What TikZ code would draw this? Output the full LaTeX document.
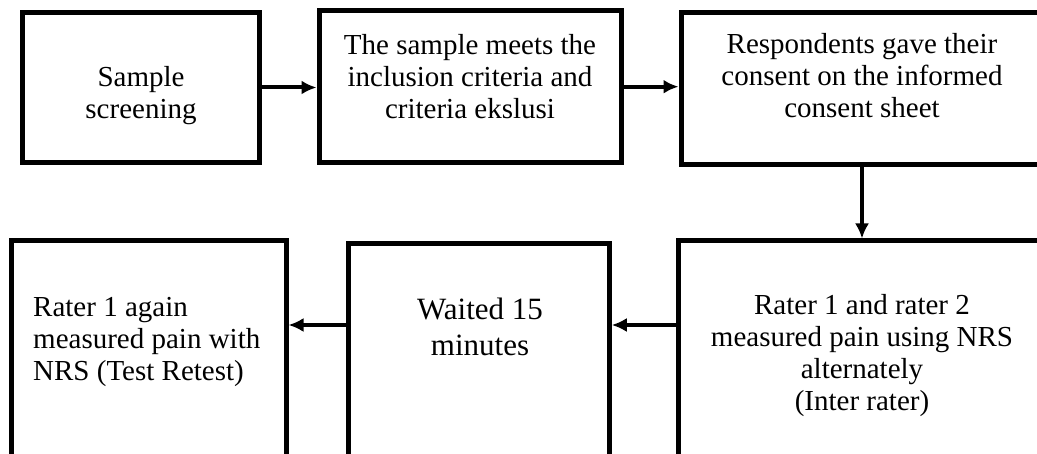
\documentclass[tikz,border=0pt]{standalone}
\usepackage{fontspec}
\setmainfont{Liberation Serif}
\usetikzlibrary{arrows.meta}

\begin{document}
\begin{tikzpicture}[x=1pt, y=-1pt,
	box/.style={draw, line width=5pt, inner sep=0pt},
	txt/.style={align=center, font=\fontsize{29}{32}\selectfont, inner sep=0pt},
	arr/.style={-{Latex[length=15pt,width=14pt]}, line width=4pt}]

	\useasboundingbox (0,0) rectangle (1037,454);
	\clip (0,0) rectangle (1037,454);

	\coordinate (R2) at (0,325);

	\node[box, minimum width=237pt, minimum height=150pt] (screen) at (141,87.5) {};
	\node[box, minimum width=302pt, minimum height=151.5pt] (meets) at (470,86.7) {};
	\node[box, minimum width=362pt, minimum height=152.5pt] (consent) at (862,88.7) {};
	\node[box, minimum width=368pt, minimum height=239pt] (inter) at (862,360.5) {};
	\node[box, minimum width=260.5pt, minimum height=236pt] (wait) at (479,362) {};
	\node[box, minimum width=275pt, minimum height=239pt] (retest) at (148.5,360.5) {};

	\node[txt] (screen-t) at (141,96) {Sample\\screening};
	\node[txt] (meets-t) at (470,77) {The sample meets the\\inclusion criteria and\\criteria ekslusi};
	\node[txt] (consent-t) at (862,76) {Respondents gave their\\consent on the informed\\consent sheet};
	\node[txt] (inter-t) at (862,356) {Rater 1 and rater 2\\measured pain using NRS\\alternately\\(Inter rater)};
	\node[txt, font=\fontsize{31}{36}\selectfont] (wait-t) at (480,327) {Waited 15\\minutes};
	\node[txt, align=left, anchor=west] (retest-t) at (33,342) {Rater 1 again\\measured pain with\\NRS (Test Retest)};

	\draw[arr] (screen.east) -- (screen.east -| meets.west);
	\draw[arr] (meets.east) -- (meets.east -| consent.west);
	\draw[arr] (consent.south) -- (inter.north);
	\draw[arr] (inter.west |- R2) -- (wait.east |- R2);
	\draw[arr] (wait.west |- R2) -- (retest.east |- R2);
\end{tikzpicture}
\end{document}
